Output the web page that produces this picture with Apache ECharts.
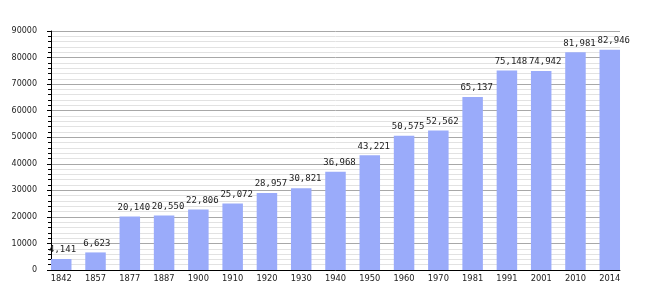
<!DOCTYPE html>
<html>
<head>
<meta charset="utf-8">
<script src="https://cdn.jsdelivr.net/npm/echarts@6/dist/echarts.min.js"></script>
<style>html,body{margin:0;padding:0;background:#fff}#c{width:650px;height:300px}</style>
</head>
<body>
<div id="c"></div>
<script>
var categories = ['1842','1857','1877','1887','1900','1910','1920','1930','1940','1950','1960','1970','1981','1991','2001','2010','2014'];
var population = [4141,6623,20140,20550,22806,25072,28957,30821,36968,43221,50575,52562,65137,75148,74942,81981,82946];
var yMin = 0, yMax = 90000, yStep = 10000;

function fmt(v){ return String(v).replace(/\B(?=(\d{3})+(?!\d))/g, ','); }

var chart = echarts.init(document.getElementById('c'), null, {renderer:'canvas'});
chart.setOption({
  animation: false,
  backgroundColor: '#fff',
  grid: [
    {left: 51, right: 30, top: 31, bottom: 30},
    {left: 44.1, right: 23.1, top: 31, bottom: 30}
  ],
  xAxis: [
    {gridIndex: 0, type: 'value', min: 0, max: 1,
     axisLine: {show: true, onZero: false, lineStyle: {color: '#000', width: 1}},
     axisTick: {show: false}, axisLabel: {show: false}, splitLine: {show: false}},
    {gridIndex: 1, type: 'category', data: categories, boundaryGap: true,
     axisLine: {show: false}, axisTick: {show: false},
     axisLabel: {margin: 5, fontFamily: 'DejaVu Sans', fontSize: 8.3, color: '#222', interval: 0}}
  ],
  yAxis: [
    {gridIndex: 0, type: 'value', min: yMin, max: yMax, interval: yStep,
     axisLine: {show: true, lineStyle: {color: '#000', width: 1}},
     axisTick: {show: true, length: 4, lineStyle: {color: '#000'}},
     minorTick: {show: true, splitNumber: 5, length: 3, lineStyle: {color: '#000'}},
     splitLine: {show: true, lineStyle: {color: '#a8a8a8', width: 1}},
     minorSplitLine: {show: true, lineStyle: {color: '#e2e2e2', width: 1}},
     axisLabel: {margin: 14, fontFamily: 'DejaVu Sans', fontSize: 8, color: '#222',
       formatter: function(v){ return String(v); }}},
    {gridIndex: 1, type: 'value', min: yMin, max: yMax, show: false, splitLine: {show: false}}
  ],
  series: [{
    type: 'bar', xAxisIndex: 1, yAxisIndex: 1,
    data: population, barWidth: 20.5,
    itemStyle: {color: '#9aabfa'},
    label: {show: true, position: [-2, -9], align: 'left', verticalAlign: 'middle',
      fontFamily: 'DejaVu Sans Mono', fontSize: 9, color: '#222',
      formatter: function(p){ return fmt(p.value); }}
  }]
});
</script>
</body>
</html>
